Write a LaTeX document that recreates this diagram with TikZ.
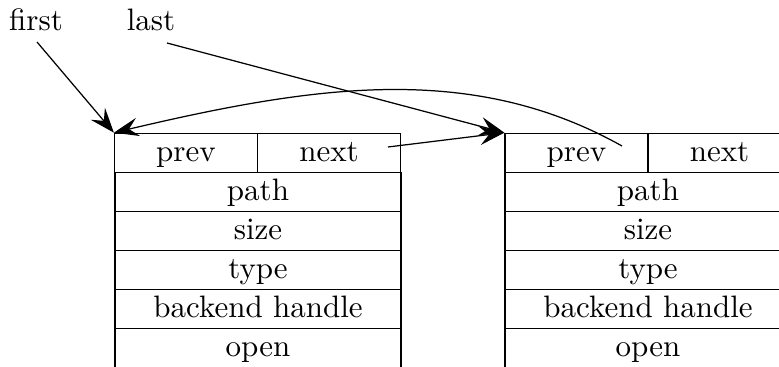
\documentclass[tikz,border=0pt]{standalone}
\usetikzlibrary{arrows.meta,calc}

\tikzset{
  halfcell/.style={draw, inner sep=0pt, minimum width=46.13pt, minimum height=12.58pt,
    text height=1.5ex, text depth=0.25ex},
  fullcell/.style={draw, inner sep=0pt, minimum width=92.26pt, minimum height=12.58pt,
    text height=1.5ex, text depth=0.25ex},
  ptr/.style={inner sep=0pt, anchor=base},
  link/.style={-{Stealth[length=8pt, width=6pt, inset=3pt]}},
}

\begin{document}
\begin{tikzpicture}[x=0.3226pt, y=-0.3226pt]
  \useasboundingbox (0,0) rectangle (779,367);
  \clip (0,0) rectangle (779,367);

  % list head pointers
  \node[ptr] (first) at (36,31) {first};
  \node[ptr] (last) at (151,31) {last};

  % first element
  \node[halfcell] (Lprev) at (186,152.8) {prev};
  \node[halfcell] (Lnext) at (329,152.8) {next};
  \node[fullcell] (Lpath) at (258,191.8) {path};
  \node[fullcell] (Lsize) at (258,230.8) {size};
  \node[fullcell] (Ltype) at (258,269.8) {type};
  \node[fullcell] (Lback) at (258,308.8) {backend handle};
  \node[fullcell] (Lopen) at (258,347.8) {open};

  % second element
  \node[halfcell] (Rprev) at (576.5,152.8) {prev};
  \node[halfcell] (Rnext) at (719.5,152.8) {next};
  \node[fullcell] (Rpath) at (648,191.8) {path};
  \node[fullcell] (Rsize) at (648,230.8) {size};
  \node[fullcell] (Rtype) at (648,269.8) {type};
  \node[fullcell] (Rback) at (648,308.8) {backend handle};
  \node[fullcell] (Ropen) at (648,347.8) {open};

  % pointer origins
  \coordinate (firstout) at ($(first.base)+(1,11)$);
  \coordinate (lastout) at ($(last.base)+(16,12)$);
  \coordinate (nextout) at ($(Lnext.center)+(59,-5.8)$);
  \coordinate (prevout) at ($(Rprev.center)+(45.5,-6.8)$);

  % links
  \draw[link] (firstout) -- (Lprev.north west);
  \draw[link] (lastout) -- (Rprev.north west);
  \draw[link] (nextout) -- (Rprev.north west);
  \draw[link] (prevout) .. controls (472,62) and (316,85) .. (Lprev.north west);
\end{tikzpicture}
\end{document}
